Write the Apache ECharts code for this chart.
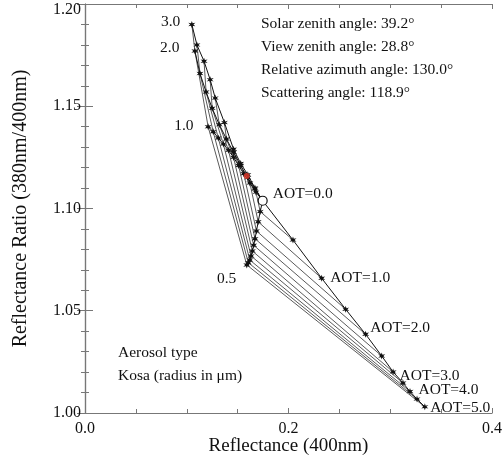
<!DOCTYPE html>
<html><head><meta charset="utf-8">
<script src="https://cdn.jsdelivr.net/npm/echarts@6/dist/echarts.min.js"></script>
<style>html,body{margin:0;padding:0;background:#fff}#c{width:504px;height:458px}</style>
</head><body><div id="c"></div>
<script>
// AOT steps along each radius curve
const aot = [0.0, 0.5, 1.0, 1.5, 2.0, 2.5, 3.0, 3.5, 4.0, 4.5, 5.0];
// radius labels (first = smallest, unlabelled)
const radii = ['', '0.5', '1.0', '2.0', '3.0'];
// reflectance (400nm) and ratio per radius, per AOT
const xRmin = [0.1746, 0.2044, 0.2326, 0.2562, 0.2758, 0.2916, 0.3028, 0.3125, 0.3194, 0.3263, 0.3340];
const yRmin = [1.1038, 1.0846, 1.0659, 1.0507, 1.0385, 1.0279, 1.0201, 1.0147, 1.0105, 1.0068, 1.0030];
const xR05 = [0.1746, 0.1722, 0.1702, 0.1685, 0.1671, 0.1658, 0.1645, 0.1632, 0.1620, 0.1605, 0.1590];
const yR05 = [1.1038, 1.0985, 1.0935, 1.0890, 1.0852, 1.0820, 1.0792, 1.0768, 1.0748, 1.0735, 1.0724];
const xR10 = [0.1746, 0.1680, 0.1620, 0.1560, 0.1510, 0.1460, 0.1410, 0.1360, 0.1310, 0.1260, 0.1210];
const yR10 = [1.1038, 1.1080, 1.1125, 1.1170, 1.1210, 1.1250, 1.1285, 1.1315, 1.1345, 1.1375, 1.1400];
const xR20 = [0.1746, 0.1670, 0.1600, 0.1530, 0.1460, 0.1390, 0.1320, 0.1250, 0.1190, 0.1130, 0.1080];
const yR20 = [1.1038, 1.1095, 1.1150, 1.1210, 1.1275, 1.1340, 1.1410, 1.1490, 1.1570, 1.1660, 1.1770];
const xR30 = [0.1746, 0.1670, 0.1600, 0.1530, 0.1460, 0.1370, 0.1280, 0.1230, 0.1170, 0.1100, 0.1050];
const yR30 = [1.1038, 1.1100, 1.1165, 1.1220, 1.1290, 1.1420, 1.1540, 1.1630, 1.1720, 1.1800, 1.1900];
const observed = [0.1589, 1.1159];
const infoLines = ['Solar zenith angle: 39.2°', 'View zenith angle: 28.8°', 'Relative azimuth angle: 130.0°', 'Scattering angle: 118.9°'];
const typeLines = ['Aerosol type', 'Kosa (radius in μm)'];
const xTicks = [0.0, 0.2, 0.4];
const yTicks = [1.00, 1.05, 1.10, 1.15, 1.20];

const X = [xRmin, xR05, xR10, xR20, xR30];
const Y = [yRmin, yR05, yR10, yR20, yR30];
const FONT = 'Liberation Serif';
const TXT = '#111';
const star = 'path://M5,0 L6,3.3 L9.3,2.5 L7,5 L9.3,7.5 L6,6.7 L5,10 L4,6.7 L0.7,7.5 L3,5 L0.7,2.5 L4,3.3 Z';

const series = [];
// constant-AOT lines across radii
for (let j = 1; j < aot.length; j++) {
  series.push({
    type: 'line', symbol: 'none', silent: true, z: 2,
    lineStyle: {color: '#5a5a5a', width: 1},
    data: X.map((xs, i) => [xs[j], Y[i][j]])
  });
}
const radLabelCfg = {
  '0.5': {position: 'left', offset: [-2, 14]},
  '1.0': {position: 'left', offset: [-6, -1]},
  '2.0': {position: 'left', offset: [-7, -3]},
  '3.0': {position: 'left', offset: [-3, -3]}
};
const aotOffsets = {2: [0, 0], 4: [-4, -6], 6: [-2, 4], 8: [0, -2], 10: [-3, 1]};
// constant-radius curves across AOT
X.forEach((xs, i) => {
  const data = xs.map((x, j) => {
    const p = {value: [x, Y[i][j]]};
    if (j === 0) p.symbol = 'none';
    if (i === 0 && j > 0 && aot[j] % 1 === 0) {
      p.label = {show: true, position: 'right', offset: aotOffsets[j] || [0, 0],
        formatter: 'AOT=' + aot[j].toFixed(1)};
    }
    if (i > 0 && j === xs.length - 1) {
      p.label = Object.assign({show: true, formatter: radii[i]}, radLabelCfg[radii[i]]);
    }
    return p;
  });
  series.push({
    type: 'line', symbol: star, symbolSize: 7, showSymbol: true, z: 3,
    lineStyle: {color: '#111', width: 1},
    itemStyle: {color: '#111'},
    label: {fontFamily: FONT, fontSize: 15.5, color: TXT},
    data: data
  });
});
// AOT = 0 point
series.push({
  type: 'scatter', symbol: 'circle', symbolSize: 9, z: 5,
  itemStyle: {color: '#fff', borderColor: '#111', borderWidth: 1.2, opacity: 1},
  label: {show: true, position: 'right', offset: [0, -7], formatter: 'AOT=' + aot[0].toFixed(1),
    fontFamily: FONT, fontSize: 15.5, color: TXT},
  data: [[xR05[0], yR05[0]]]
});
series.push({
  type: 'scatter', symbol: 'circle', symbolSize: 6, z: 6,
  itemStyle: {color: '#e8392a'},
  data: [observed]
});

const tickStyle = {color: '#777'};
const axisCommon = {
  axisLine: {show: true, lineStyle: {color: '#777', width: 1.2}},
  splitLine: {show: false}
};
const yMax = yTicks[yTicks.length - 1];
const chart = echarts.init(document.getElementById('c'), null, {renderer: 'canvas'});
chart.setOption({
  animation: false,
  grid: {left: 85, right: 12, top: 4, bottom: 45, containLabel: false, outerBoundsMode: 'none'},
  xAxis: [
    Object.assign({type: 'value', min: xTicks[0], max: xTicks[xTicks.length - 1], interval: 0.2, position: 'bottom',
      name: 'Reflectance (400nm)', nameLocation: 'middle', nameGap: 24, nameMoveOverlap: false,
      nameTextStyle: {fontFamily: FONT, fontSize: 19, color: TXT},
      axisLabel: {fontFamily: FONT, fontSize: 16, color: TXT, margin: 8, formatter: v => v.toFixed(1)},
      axisTick: {show: true, inside: true, length: 5, lineStyle: tickStyle},
      minorTick: {show: true, splitNumber: 4, length: 4, lineStyle: tickStyle}}, axisCommon),
    Object.assign({type: 'value', min: 0, max: 0.4, interval: 0.2, position: 'top', axisLabel: {show: false},
      axisTick: {show: true, inside: true, length: 5, lineStyle: tickStyle},
      minorTick: {show: true, splitNumber: 4, length: 4, lineStyle: tickStyle}}, axisCommon)
  ],
  yAxis: [
    Object.assign({type: 'value', min: yTicks[0], max: yMax, interval: 0.05, position: 'left',
      name: 'Reflectance Ratio (380nm/400nm)', nameLocation: 'middle', nameGap: 54, nameRotate: 90, nameMoveOverlap: false,
      nameTextStyle: {fontFamily: FONT, fontSize: 20, color: TXT},
      axisLabel: {fontFamily: FONT, fontSize: 16, color: TXT, margin: 4,
        formatter: v => Math.abs(v - yMax) < 1e-9 ? '{top|' + v.toFixed(2) + '}' : v.toFixed(2),
        rich: {top: {fontFamily: FONT, fontSize: 16, color: TXT, padding: [12, 0, 0, 0]}}},
      axisTick: {show: true, inside: true, length: 8, lineStyle: tickStyle},
      minorTick: {show: true, splitNumber: 5, length: 4, lineStyle: tickStyle}}, axisCommon),
    Object.assign({type: 'value', min: 1.0, max: 1.2, interval: 0.05, position: 'right', axisLabel: {show: false},
      axisTick: {show: true, inside: true, length: 8, lineStyle: tickStyle},
      minorTick: {show: true, splitNumber: 5, length: 4, lineStyle: tickStyle}}, axisCommon)
  ],
  series: series,
  graphic: [
    {type: 'text', left: 261, top: 12, style: {text: infoLines.join('\n'), fontFamily: FONT, fontSize: 15.5, lineHeight: 23, fill: TXT}},
    {type: 'text', left: 118, top: 341, style: {text: typeLines.join('\n'), fontFamily: FONT, fontSize: 15.5, lineHeight: 23, fill: TXT}}
  ]
});
</script></body></html>
